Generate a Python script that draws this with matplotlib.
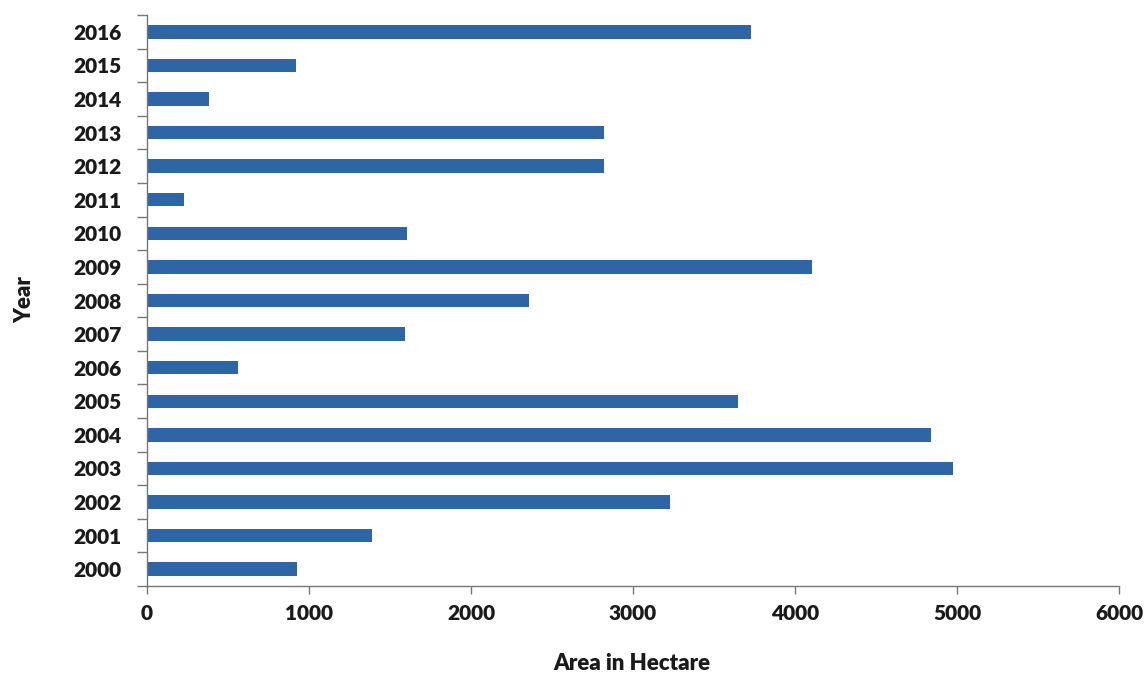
import matplotlib
matplotlib.use("Agg")
import matplotlib.pyplot as plt
import numpy as np

years = ["2000", "2001", "2002", "2003", "2004", "2005", "2006", "2007", "2008",
         "2009", "2010", "2011", "2012", "2013", "2014", "2015", "2016"]
area = [925, 1390, 3230, 4975, 4840, 3650, 560, 1590, 2360,
        4105, 1605, 230, 2820, 2820, 385, 920, 3730]
xticks = [0, 1000, 2000, 3000, 4000, 5000, 6000]

plt.rcParams['font.family'] = ['Lato', 'DejaVu Sans']

fig = plt.figure(figsize=(11.44, 6.77), dpi=100)
ax = fig.add_axes([147/1144, 1-586/677, (1119-147)/1144, (586-15)/677])

y = np.arange(len(years))
ax.barh(y, area, height=0.4, color='#2D65A5')

ax.set_xlim(0, 6000)
ax.set_ylim(-0.5, len(years) - 0.5)

ax.set_xticks(xticks)
ax.set_xticklabels([str(t) for t in xticks], fontsize=15, fontweight='heavy', color='#1a1a1a')
ax.tick_params(axis='x', which='major', length=6, width=1, color='#777777', pad=7)

ax.set_yticks(np.arange(-0.5, len(years), 1.0))
ax.set_yticklabels([])
ax.tick_params(axis='y', which='major', length=7, width=1, color='#777777')
ax.set_yticks(y, minor=True)
ax.set_yticklabels(years, minor=True, fontsize=15, fontweight='heavy', color='#1a1a1a')
ax.tick_params(axis='y', which='minor', length=0, pad=18)

for s in ['top', 'right']:
    ax.spines[s].set_visible(False)
for s in ['left', 'bottom']:
    ax.spines[s].set_color('#777777')
    ax.spines[s].set_linewidth(1)

fig.text(632/1144, 1-663/677, "Area in Hectare", ha='center', va='center',
         fontsize=16, fontweight='heavy', color='#1a1a1a')
fig.text(25/1144, 1-300/677, "Year", ha='center', va='center', rotation=90,
         fontsize=16, fontweight='heavy', color='#1a1a1a')

fig.savefig("out.png", dpi=100)
